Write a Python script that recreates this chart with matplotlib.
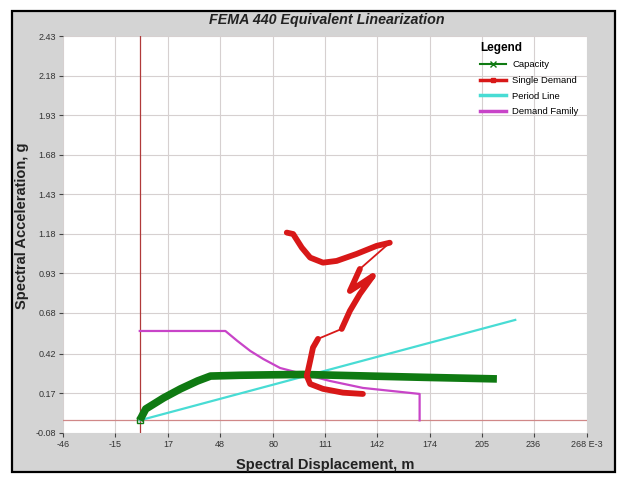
import matplotlib
matplotlib.use("Agg")
import matplotlib.pyplot as plt
from matplotlib.lines import Line2D
from matplotlib.patches import Rectangle
import numpy as np

plt.rcParams["font.family"] = ["Liberation Sans", "DejaVu Sans"]

# Data (x in E-3 m, y in g)
capacity_x = [0.0, 3.6, 14.3, 24.4, 34.6, 42.4, 60.0, 80.0, 97.9, 130.0, 170.0, 214.0]
capacity_y = [0.0, 0.072, 0.142, 0.199, 0.249, 0.280, 0.285, 0.288, 0.290, 0.282, 0.272, 0.262]

period_x = [0.0, 225.0]
period_y = [0.0, 0.635]

family_x = [0.0, 51.3, 58.5, 66.2, 74.0, 84.1, 97.9, 114.0, 133.7, 167.7, 167.7]
family_y = [0.565, 0.565, 0.502, 0.439, 0.388, 0.331, 0.293, 0.249, 0.205, 0.167, 0.0]

demand_x = [88.1, 91.9, 97.1, 102.1, 109.8, 118.0, 129.9, 141.9, 149.8, 131.9, 125.9, 133.7,
            139.7, 131.9, 125.9, 121.0, 106.8, 103.8, 102.1, 100.1, 102.1, 109.8, 121.8, 133.7]
demand_y = [1.187, 1.178, 1.092, 1.029, 0.997, 1.008, 1.052, 1.103, 1.123, 0.957, 0.818, 0.871,
            0.913, 0.799, 0.692, 0.578, 0.515, 0.460, 0.376, 0.281, 0.230, 0.199, 0.175, 0.167]
demand_thin = [8, 15]  # segments starting at these indices are drawn thin

x_ticks = [-46, -15, 17, 48, 80, 111, 142, 174, 205, 236, 268]
x_labels = ["-46", "-15", "17", "48", "80", "111", "142", "174", "205", "236", "268 E-3"]
y_ticks = [-0.08, 0.17, 0.42, 0.68, 0.93, 1.18, 1.43, 1.68, 1.93, 2.18, 2.43]
y_labels = ["-0.08", "0.17", "0.42", "0.68", "0.93", "1.18", "1.43", "1.68", "1.93", "2.18", "2.43"]

GREEN = "#0f7a12"
RED = "#d81818"
CYAN = "#48dcd4"
MAGENTA = "#c844c8"

fig = plt.figure(figsize=(6.25, 4.8), dpi=100, facecolor="white")

# gray panel with black border
fig.patches.append(Rectangle((12 / 625, 1 - 472 / 480), 603 / 625, 461 / 480,
                             transform=fig.transFigure, facecolor="#d4d4d4",
                             edgecolor="black", linewidth=1.6, zorder=-10))

ax = fig.add_axes([63 / 625, 1 - 433 / 480, (587 - 63) / 625, (433 - 36) / 480])
ax.set_zorder(2)
ax.set_facecolor("white")
ax.set_xlim(x_ticks[0], x_ticks[-1])
ax.set_ylim(y_ticks[0], y_ticks[-1])
for s in ax.spines.values():
    s.set_visible(False)

ax.set_xticks(x_ticks)
ax.set_xticklabels(x_labels)
ax.set_yticks(y_ticks)
ax.set_yticklabels(y_labels)
ax.tick_params(direction="out", length=3, width=0.8, color="#444444",
               labelsize=6.5, labelcolor="#333333", pad=2)
ax.grid(True, color="#d6d0d0", linewidth=0.8)
ax.set_axisbelow(True)

ax.axvline(0, color="#b03a3a", linewidth=0.9, zorder=1)
ax.axhline(0, color="#d08888", linewidth=0.9, zorder=1)

ax.plot(period_x, period_y, color=CYAN, linewidth=1.6, zorder=3)
ax.plot(family_x, family_y, color=MAGENTA, linewidth=1.6, zorder=3)
ax.plot(capacity_x, capacity_y, color=GREEN, linewidth=5.5, solid_capstyle="butt", zorder=4)
ax.plot(capacity_x[:1], capacity_y[:1], marker="s", markersize=4, markerfacecolor="none",
        markeredgecolor=GREEN, linestyle="none", zorder=5)

# single demand: thick segments, with a few thin connecting segments
dx = np.array(demand_x)
dy = np.array(demand_y)
ax.plot(dx, dy, color=RED, linewidth=1.3, zorder=5)
start = 0
for t in demand_thin + [len(dx) - 1]:
    ax.plot(dx[start:t + 1], dy[start:t + 1], color=RED, linewidth=4.2,
            solid_capstyle="round", solid_joinstyle="round", zorder=6)
    start = t + 1

handles = [
    Line2D([], [], color=GREEN, linewidth=1.5, marker="x", markersize=4),
    Line2D([], [], color=RED, linewidth=2.5, marker="s", markersize=3),
    Line2D([], [], color=CYAN, linewidth=2.5),
    Line2D([], [], color=MAGENTA, linewidth=2.5),
]
leg = ax.legend(handles, ["Capacity", "Single Demand", "Period Line", "Demand Family"],
                loc="upper left", bbox_to_anchor=(0.785, 1.0), frameon=False,
                fontsize=6.8, title="Legend", handlelength=2.8, handletextpad=0.6,
                labelspacing=0.7, borderaxespad=0.2)
leg.get_title().set_fontweight("bold")
leg.get_title().set_fontsize(8.5)
leg._legend_box.align = "left"

fig.text(327 / 625, 1 - 20 / 480, "FEMA 440 Equivalent Linearization", ha="center", va="center",
         fontsize=10.3, fontweight="bold", fontstyle="italic", color="#222222")
fig.text(325 / 625, 1 - 465 / 480, "Spectral Displacement, m", ha="center", va="center",
         fontsize=10.5, fontweight="bold", color="#222222")
fig.text(22 / 625, 1 - 226 / 480, "Spectral Acceleration, g", ha="center", va="center",
         rotation=90, fontsize=10.5, fontweight="bold", color="#222222")

fig.savefig("out.png", dpi=100, facecolor="white")
